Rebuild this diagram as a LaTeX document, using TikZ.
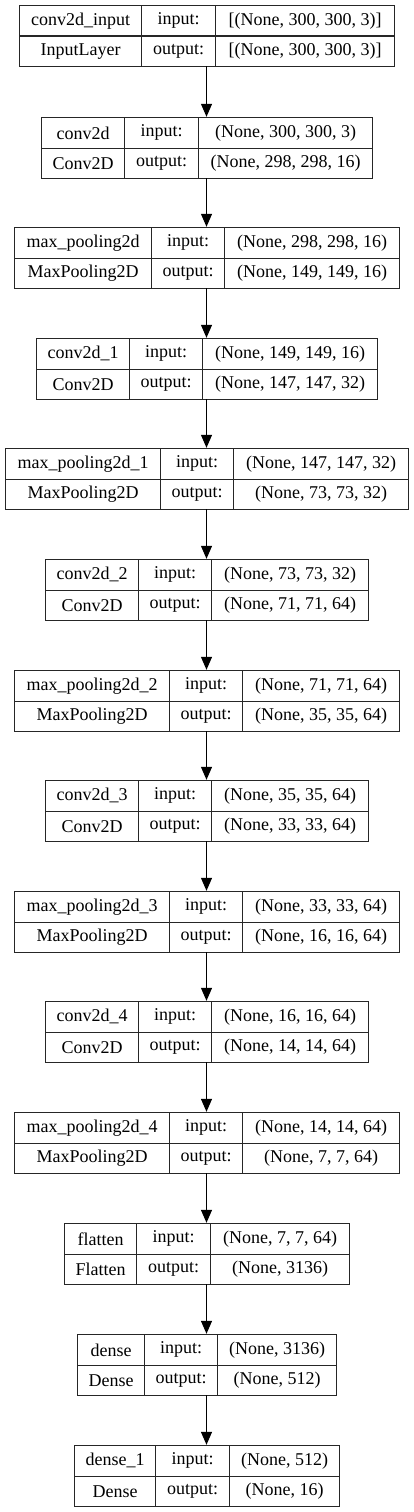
\documentclass[tikz,border=0pt]{standalone}
\usepackage{fontspec}
\setmainfont{Liberation Serif}
\usetikzlibrary{arrows.meta}

\tikzset{
	cell/.style={draw=black!85, line width=1.2pt, inner sep=0pt, anchor=north west,
		minimum height=30.5pt, font=\fontsize{18}{20}\selectfont},
	flow/.style={draw=black, line width=1.2pt, -{Triangle[length=13pt,width=11pt]}}
}

% #1 id, #2 top, #3 left, #4 first divider, #5 second divider,
% #6 layer name, #7 layer class, #8 input shape, #9 output shape
\newcommand{\layerbox}[9]{%
	\node[cell, minimum width={(#4-#3)*1pt}] (#1-n) at (#3,#2) {#6};
	\node[cell, minimum width={(#5-#4)*1pt}] (#1-i) at (#4,#2) {input:};
	\node[cell, minimum width={(413-#3-#5)*1pt}] (#1-iv) at (#5,#2) {#8};
	\node[cell, minimum width={(#4-#3)*1pt}] (#1-k) at (#3,#2+30.5) {#7};
	\node[cell, minimum width={(#5-#4)*1pt}] (#1-o) at (#4,#2+30.5) {output:};
	\node[cell, minimum width={(413-#3-#5)*1pt}] (#1-ov) at (#5,#2+30.5) {#9};
	\node[inner sep=0pt, minimum width={(413-2*#3)*1pt}, minimum height=61pt] (#1) at (206.5,#2+30.5) {};
}

\begin{document}
\begin{tikzpicture}[x=1pt, y=-1pt]
	\useasboundingbox (0,0) rectangle (413,1512);
	\layerbox{inp}{5}{19}{141}{215}{conv2d\_input}{InputLayer}{[(None, 300, 300, 3)]}{[(None, 300, 300, 3)]}
	\layerbox{c0}{117}{41}{124}{198}{conv2d}{Conv2D}{(None, 300, 300, 3)}{(None, 298, 298, 16)}
	\layerbox{p0}{227}{14}{151}{224}{max\_pooling2d}{MaxPooling2D}{(None, 298, 298, 16)}{(None, 149, 149, 16)}
	\layerbox{c1}{338}{36}{129}{202}{conv2d\_1}{Conv2D}{(None, 149, 149, 16)}{(None, 147, 147, 32)}
	\layerbox{p1}{448}{5}{160}{233}{max\_pooling2d\_1}{MaxPooling2D}{(None, 147, 147, 32)}{(None, 73, 73, 32)}
	\layerbox{c2}{559}{45}{138}{211}{conv2d\_2}{Conv2D}{(None, 73, 73, 32)}{(None, 71, 71, 64)}
	\layerbox{p2}{670}{14}{169}{242}{max\_pooling2d\_2}{MaxPooling2D}{(None, 71, 71, 64)}{(None, 35, 35, 64)}
	\layerbox{c3}{780}{45}{138}{211}{conv2d\_3}{Conv2D}{(None, 35, 35, 64)}{(None, 33, 33, 64)}
	\layerbox{p3}{891}{14}{169}{242}{max\_pooling2d\_3}{MaxPooling2D}{(None, 33, 33, 64)}{(None, 16, 16, 64)}
	\layerbox{c4}{1001}{45}{138}{211}{conv2d\_4}{Conv2D}{(None, 16, 16, 64)}{(None, 14, 14, 64)}
	\layerbox{p4}{1112}{14}{169}{242}{max\_pooling2d\_4}{MaxPooling2D}{(None, 14, 14, 64)}{(None, 7, 7, 64)}
	\layerbox{fl}{1223}{64}{136}{210}{flatten}{Flatten}{(None, 7, 7, 64)}{(None, 3136)}
	\layerbox{d0}{1334}{77}{144}{217}{dense}{Dense}{(None, 3136)}{(None, 512)}
	\layerbox{d1}{1445}{74}{155}{229}{dense\_1}{Dense}{(None, 512)}{(None, 16)}
	\foreach \a/\b in {inp/c0, c0/p0, p0/c1, c1/p1, p1/c2, c2/p2, p2/c3, c3/p3, p3/c4, c4/p4, p4/fl, fl/d0, d0/d1}
		\draw[flow] (\a.south) -- (\b.north);
\end{tikzpicture}
\end{document}
